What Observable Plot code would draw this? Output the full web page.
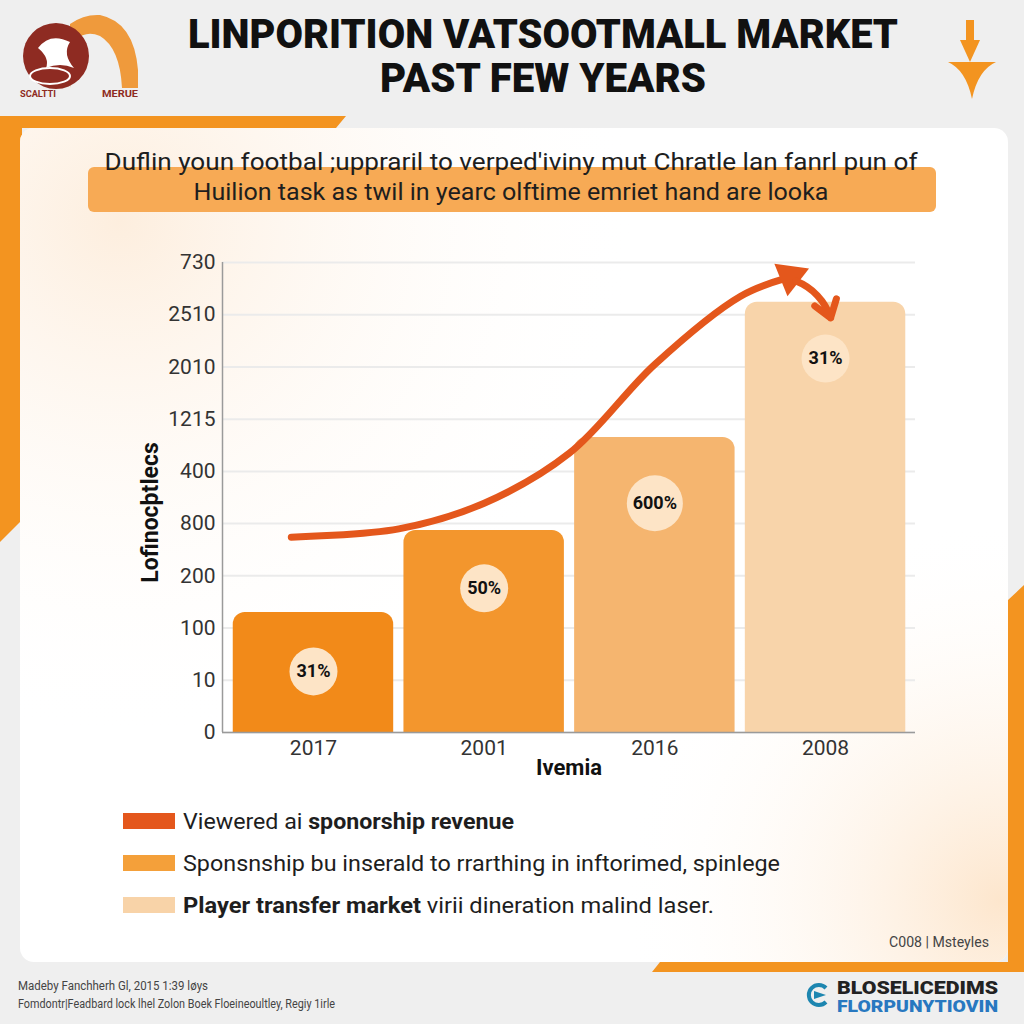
<!DOCTYPE html>
<html>
<head>
<meta charset="utf-8">
<script src="https://cdn.jsdelivr.net/npm/d3@7"></script>
<script src="https://cdn.jsdelivr.net/npm/@observablehq/plot@0.6"></script>
<style>
  html, body { margin: 0; padding: 0; background: #efefef; }
  #page { position: relative; width: 1024px; height: 1024px; overflow: hidden; }
  #deco { position: absolute; left: 0; top: 0; }
  #chart { position: absolute; left: 130px; top: 240px; }
</style>
</head>
<body>
<div id="page">
<svg id="deco" width="1024" height="1024" viewBox="0 0 1024 1024" font-family="Roboto, 'DejaVu Sans', sans-serif">
  <defs>
    <radialGradient id="peachTL" cx="120" cy="220" r="520" gradientUnits="userSpaceOnUse">
      <stop offset="0" stop-color="#fdeede"/>
      <stop offset="1" stop-color="#ffffff" stop-opacity="0"/>
    </radialGradient>
    <radialGradient id="peachBR" cx="1000" cy="900" r="380" gradientUnits="userSpaceOnUse">
      <stop offset="0" stop-color="#fde6cd"/>
      <stop offset="1" stop-color="#ffffff" stop-opacity="0"/>
    </radialGradient>
  </defs>
  <rect width="1024" height="1024" fill="#efefef"/>
  <!-- orange decorative bands -->
  <polygon points="0,116 346,116 336,128 22,128 22,520 0,542" fill="#f39420"/>
  <polygon points="1024,585 1024,972 652,972 660,962 1008,962 1008,600" fill="#f39420"/>
  <!-- card -->
  <rect x="20" y="128" width="988" height="834" rx="14" fill="#ffffff"/>
  <rect x="20" y="128" width="988" height="834" rx="14" fill="url(#peachTL)"/>
  <rect x="20" y="128" width="988" height="834" rx="14" fill="url(#peachBR)"/>
  <!-- subtitle box -->
  <rect x="88" y="167" width="848" height="45" rx="6" fill="#f7aa55"/>
  <text id="sub1" x="511" y="170" text-anchor="middle" font-size="24" fill="#1e1e1e" textLength="813" lengthAdjust="spacingAndGlyphs"></text>
  <text id="sub2" x="511" y="200" text-anchor="middle" font-size="24" fill="#1e1e1e" textLength="635" lengthAdjust="spacingAndGlyphs"></text>
  <!-- title -->
  <text id="title1" x="543" y="48" text-anchor="middle" font-size="41" font-weight="900" fill="#111" textLength="710" lengthAdjust="spacingAndGlyphs"></text>
  <text id="title2" x="543" y="92" text-anchor="middle" font-size="41" font-weight="900" fill="#111" textLength="326" lengthAdjust="spacingAndGlyphs"></text>
  <!-- top-left logo -->
  <path d="M70,88 L70,24 Q84,14 100,15 Q134,22 138,70 L138,88 L122,88 Q120,48 100,36 Q86,30 76,40 Z" fill="#ef9a3c"/>
  <circle cx="56" cy="56" r="33" fill="#8e2b22"/>
  <path d="M38,48 Q50,32 70,42 Q62,54 74,68 Q60,62 46,68 Q50,58 38,48 Z" fill="#ffffff"/>
  <ellipse cx="50" cy="76" rx="20" ry="8" fill="#8e2b22" stroke="#ffffff" stroke-width="2"/>
  <text x="20" y="97" font-size="9" font-weight="700" fill="#8e2b22" id="logoA" textLength="36" lengthAdjust="spacingAndGlyphs"></text>
  <text x="102" y="97" font-size="9" font-weight="700" fill="#8e2b22" id="logoB" textLength="36" lengthAdjust="spacingAndGlyphs"></text>
  <!-- top-right arrow -->
  <rect x="966" y="20" width="8" height="22" fill="#f39420"/>
  <polygon points="960,40 980,40 970,62" fill="#f39420"/>
  <path d="M948,62 L996,62 Q978,70 972,99 Q966,70 948,62 Z" fill="#f39420"/>
  <!-- legend -->
  <g id="legend"></g>
  <!-- caption -->
  <text id="caption" x="989" y="947" text-anchor="end" font-size="14" fill="#444" textLength="100" lengthAdjust="spacingAndGlyphs"></text>
  <!-- footer -->
  <text id="foot1" x="18" y="990" font-size="12" fill="#444" textLength="190" lengthAdjust="spacingAndGlyphs"></text>
  <text id="foot2" x="18" y="1008" font-size="12" fill="#444" textLength="317" lengthAdjust="spacingAndGlyphs"></text>
  <!-- bottom-right logo -->
  <path d="M826,988 A10,10 0 1 0 826,1002" fill="none" stroke="#1d86b0" stroke-width="4"/>
  <polygon points="814,991 826,995 814,999" fill="#1d86b0"/>
  <text id="brand1" x="837" y="994" font-size="18" font-weight="900" fill="#222" textLength="161" lengthAdjust="spacingAndGlyphs"></text>
  <text id="brand2" x="837" y="1012" font-size="17" font-weight="900" fill="#2878c0" textLength="161" lengthAdjust="spacingAndGlyphs"></text>
</svg>
<div id="chart"></div>
</div>
<script>
// ---------- data ----------
const years = ["2017", "2001", "2016", "2008"];
const barValues = [2.3, 3.87, 5.65, 8.24];          // heights on the (index-spaced) y axis
const barLabels = ["31%", "50%", "600%", "31%"];
const labelPos = [1.17, 2.76, 4.39, 7.16];
const yTickLabels = ["0", "10", "100", "200", "800", "400", "1215", "2010", "2510", "730"];
const trendX = [-0.13, 0.5, 1.0, 1.5, 2.0, 2.5, 2.77];
const trendY = [3.74, 3.9, 4.39, 5.35, 7.05, 8.35, 8.70];

const titleLines = ["LINPORITION VATSOOTMALL MARKET", "PAST FEW YEARS"];
const subtitleLines = [
  "Duflin youn footbal ;uppraril to verped'iviny mut Chratle lan fanrl pun of",
  "Huilion task as twil in yearc olftime emriet hand are looka"
];
const legendItems = [
  [["Viewered ai ", false], ["sponorship revenue", true]],
  [["Sponsnship bu inserald to rrarthing in inftorimed, spinlege", false]],
  [["Player transfer market", true], [" virii dineration malind laser.", false]]
];
const xTitle = "Ivemia";
const yTitle = "Lofinocþtlecs";
const captionText = "C008 | Msteyles";
const footerLines = ["Madeby Fanchherh Gl, 2015 1:39 løys", "Fomdontr|Feadbard lock lhel Zolon Boek Floeineoultley, Regiy 1irle"];
const brandLines = ["BLOSELICEDIMS", "FLORPUNYTIOVIN"];
const logoTexts = ["SCALTTI", "MERUE"];

// ---------- styles ----------
const barColors = ["#f28a19", "#f3962d", "#f5b56f", "#f8d4aa"];
const legendColors = ["#e4571c", "#f4a03a", "#f8d3a8"];
const lineColor = "#e4571c";

// ---------- decoration text ----------
document.getElementById("title1").textContent = titleLines[0];
document.getElementById("title2").textContent = titleLines[1];
document.getElementById("sub1").textContent = subtitleLines[0];
document.getElementById("sub2").textContent = subtitleLines[1];
document.getElementById("caption").textContent = captionText;
document.getElementById("foot1").textContent = footerLines[0];
document.getElementById("foot2").textContent = footerLines[1];
document.getElementById("brand1").textContent = brandLines[0];
document.getElementById("brand2").textContent = brandLines[1];
document.getElementById("logoA").textContent = logoTexts[0];
document.getElementById("logoB").textContent = logoTexts[1];

const legendG = d3.select("#legend");
const legendLen = [331, 597, 531];
legendItems.forEach((parts, i) => {
  const cy = 821 + i * 42;
  legendG.append("rect").attr("x", 123).attr("y", cy - 8).attr("width", 52).attr("height", 16).attr("fill", legendColors[i]);
  const t = legendG.append("text").attr("x", 183).attr("y", cy + 8).attr("font-size", 22).attr("fill", "#1e1e1e")
    .attr("textLength", legendLen[i]).attr("lengthAdjust", "spacingAndGlyphs");
  parts.forEach(([s, b]) => t.append("tspan").attr("font-weight", b ? 700 : 400).text(s));
});

// ---------- chart ----------
const bars = years.map((year, i) => ({i, year, v: barValues[i], label: barLabels[i], lp: labelPos[i], color: barColors[i]}));
const trend = trendX.map((x, k) => ({x, y: trendY[k]}));
const last = trend[trend.length - 1];

const chart = Plot.plot({
  width: 800,
  height: 540,
  marginLeft: 92,
  marginRight: 15,
  marginTop: 22,
  marginBottom: 48,
  style: {fontFamily: "Roboto, 'DejaVu Sans', sans-serif", fontSize: "21px", color: "#333", background: "transparent", overflow: "visible"},
  x: {domain: [-0.533, 3.527], axis: null},
  y: {domain: [0, 9], axis: null},
  color: {type: "identity"},
  r: {type: "identity"},
  marks: [
    Plot.ruleY(d3.range(yTickLabels.length), {stroke: "#ebebeb", strokeWidth: 2}),
    Plot.axisY(d3.range(yTickLabels.length), {tickSize: 0, tickPadding: 7, tickFormat: (d) => yTickLabels[d], fontSize: 21, fill: "#333"}),
    Plot.axisX(d3.range(years.length), {tickSize: 0, tickPadding: 8, tickFormat: (d) => years[d], fontSize: 21, fill: "#333", label: null}),
    Plot.rect(bars, {x1: (d) => d.i - 0.47, x2: (d) => d.i + 0.47, y1: 0, y2: "v", fill: "color", rx: 12, insetBottom: -16, clip: true}),
    Plot.ruleX([-0.533], {stroke: "#9a9a9a", strokeWidth: 1.5}),
    Plot.ruleY([0], {stroke: "#9a9a9a", strokeWidth: 1.5}),
    Plot.line(trend, {x: "x", y: "y", curve: "catmull-rom", stroke: lineColor, strokeWidth: 7, strokeLinecap: "round"}),
    Plot.dot([last], {x: "x", y: "y", symbol: "triangle", r: 13, rotate: 68, fill: lineColor, stroke: "none", dx: 4, dy: -2}),
    Plot.arrow([last], {x1: "x", y1: "y", x2: () => 3.03, y2: () => barValues[3] - 0.3, bend: 30, stroke: lineColor, strokeWidth: 7, headLength: 16, headAngle: 70, insetStart: 10}),
    Plot.dot(bars, {x: "i", y: "lp", r: (d) => (d.label.length > 3 ? 28 : 24), fill: "#fde4c6", stroke: "none"}),
    Plot.text(bars, {x: "i", y: "lp", text: "label", fontSize: 18, fontWeight: 700, fill: "#111"}),
    Plot.text([xTitle], {frameAnchor: "bottom", dy: 42, fontSize: 22, fontWeight: 700, fill: "#111"}),
    Plot.text([yTitle], {frameAnchor: "left", textAnchor: "middle", dx: -72, dy: 15, rotate: -90, fontSize: 23, fontWeight: 700, fill: "#111"})
  ]
});
document.getElementById("chart").appendChild(chart);
</script>
</body>
</html>
